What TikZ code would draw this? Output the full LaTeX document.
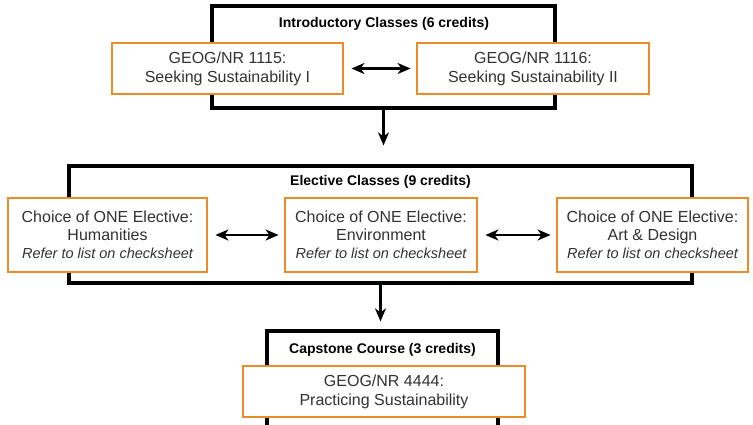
\documentclass[tikz,border=0pt]{standalone}
\usepackage{fontspec}
\setmainfont{Liberation Sans}
\usepackage{tikz}
\usetikzlibrary{
  arrows.meta,
  positioning
}
\definecolor{courseorange}{RGB}{234,140,40}
\definecolor{coursegray}{RGB}{50,50,50}

\begin{document}
\begin{tikzpicture}[
    x=1pt,
    y=-1pt,
    >={Stealth[length=13pt,width=11pt,inset=4pt]},
    groupbox/.style={draw=black,line width=3.2pt,inner sep=0pt},
    coursebox/.style={draw=courseorange,line width=2.9pt,fill=white,
      inner sep=0pt,align=center,text=coursegray,
      font=\fontsize{16}{19}\selectfont},
    grouptitle/.style={font=\bfseries\fontsize{14}{16}\selectfont},
    swap/.style={<->,line width=2.5pt,shorten <=7pt,shorten >=5pt},
    flow/.style={->,line width=2.5pt}
    ]
    
    \useasboundingbox (0,0) rectangle (753,424);
    \clip (0,0) rectangle (753,424);
    
    % introductory
    \node[groupbox,minimum width=343pt,minimum height=102pt]
    (intro) at (383.5,57) {};
    
    \node[grouptitle] (introtitle) at (384,24)
    {Introductory Classes (6 credits)};
    
    \node[coursebox,minimum width=231pt,minimum height=51pt]
    (geogA) at (227.5,68.5)
    {GEOG/NR 1115:\\Seeking Sustainability I};
    
    \node[coursebox,minimum width=232pt,minimum height=51pt]
    (geogB) at (533,68.5)
    {GEOG/NR 1116:\\Seeking Sustainability II};
    
    \draw[swap] (geogA) -- (geogB);
    
    % electives
    \node[groupbox,minimum width=623pt,minimum height=117pt]
    (elective) at (380.5,224.5) {};
    
    \node[grouptitle] (electtitle) at (380.5,182)
    {Elective Classes (9 credits)};
    
    \node[coursebox,minimum width=199pt,minimum height=74pt,
    font=\fontsize{16}{18}\selectfont]
    (human) at (107.5,235)
    {Choice of ONE Elective:\\Humanities\\
    {\itshape\fontsize{14.5}{18}\selectfont Refer to list on checksheet}};
    
    \node[coursebox,minimum width=192pt,minimum height=74pt,
    font=\fontsize{16}{18}\selectfont]
    (environ) at (381,235)
    {Choice of ONE Elective:\\Environment\\
    {\itshape\fontsize{14.5}{18}\selectfont Refer to list on checksheet}};
    
    \node[coursebox,minimum width=191pt,minimum height=74pt,
    font=\fontsize{16}{18}\selectfont]
    (artdesign) at (652.5,235)
    {Choice of ONE Elective:\\Art \& Design\\
    {\itshape\fontsize{14.5}{18}\selectfont Refer to list on checksheet}};
    
    \draw[swap] (human) -- (environ);
    \draw[swap] (environ) -- (artdesign);
    
    % capstone
    \node[groupbox,minimum width=231pt,minimum height=110pt]
    (capstone) at (382.5,386) {};
    
    \node[grouptitle] (captitle) at (382.5,350)
    {Capstone Course (3 credits)};
    
    \node[coursebox,minimum width=282pt,minimum height=51pt]
    (geogC) at (384,391.5)
    {GEOG/NR 4444:\\Practicing Sustainability};
    
    \coordinate (electin) at ([yshift=19pt]elective.north);
    \coordinate (capin) at ([yshift=8pt]capstone.north);
    
    \draw[flow] (intro.south) -- (intro.south |- electin);
    \draw[flow] (elective.south) -- (elective.south |- capin);
    
    \end{tikzpicture}
\end{document}
